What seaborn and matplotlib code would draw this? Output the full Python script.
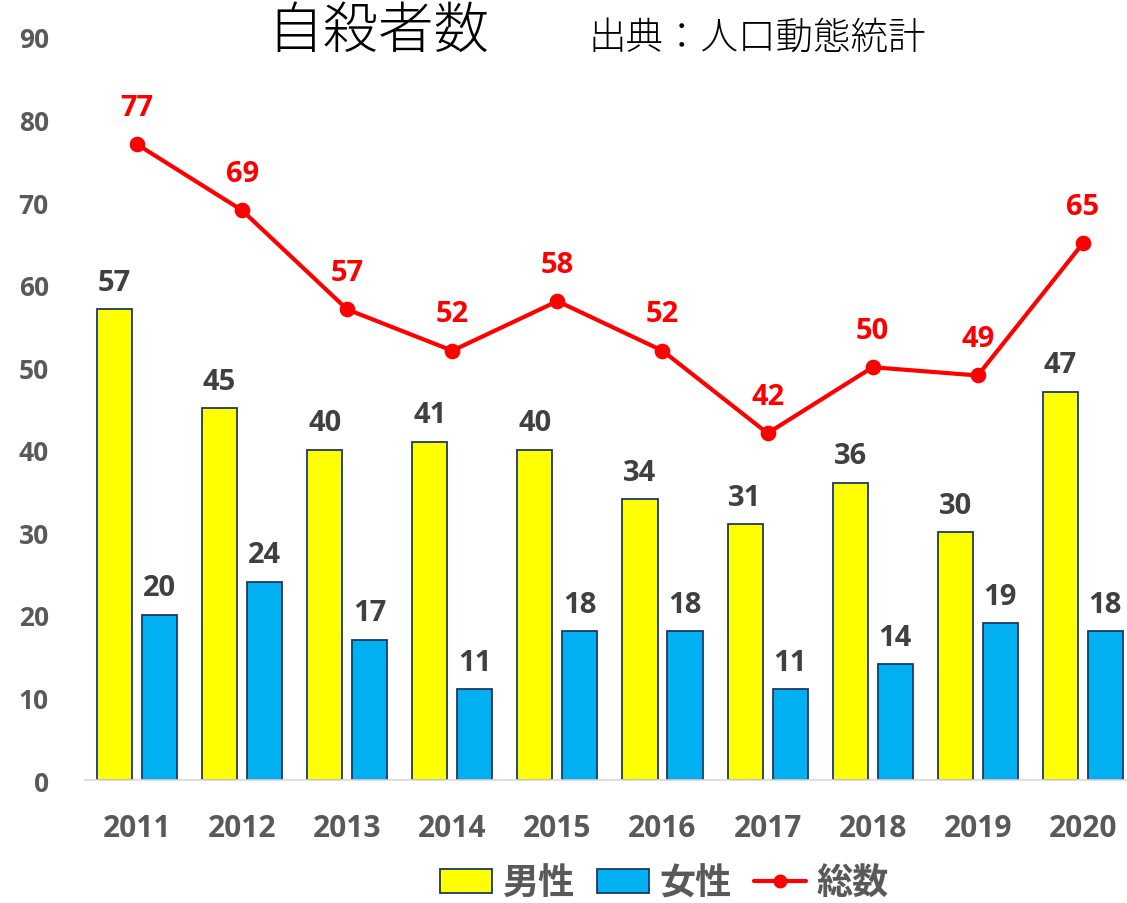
import matplotlib
matplotlib.use("Agg")
import matplotlib.pyplot as plt
import seaborn as sns
import pandas as pd
import numpy as np
from matplotlib.patches import Patch
from matplotlib.lines import Line2D

years = ["2011", "2012", "2013", "2014", "2015", "2016", "2017", "2018", "2019", "2020"]
male = [57, 45, 40, 41, 40, 34, 31, 36, 30, 47]
female = [20, 24, 17, 11, 18, 18, 11, 14, 19, 18]
total = [77, 69, 57, 52, 58, 52, 42, 50, 49, 65]
series_names = ["男性", "女性", "総数"]
title = "自殺者数"
source = "出典：人口動態統計"

sns.set_theme(style="white")
plt.rcParams['font.family'] = ['Noto Sans CJK JP', 'DejaVu Sans']
NUM = ['Open Sans', 'DejaVu Sans']

df = pd.DataFrame({
    "year": years * 2,
    "value": male + female,
    "sex": [series_names[0]] * len(years) + [series_names[1]] * len(years),
})

fig = plt.figure(figsize=(11.27, 9.04), dpi=100)
ax = fig.add_axes([85 / 1127, 1 - 781 / 904, 1 - 85 / 1127, (781 - 38) / 904])

palette = {series_names[0]: "#FFFF00", series_names[1]: "#00B0F0"}
sns.barplot(data=df, x="year", y="value", hue="sex", order=years,
            hue_order=series_names[:2], palette=palette, width=0.857, gap=0.22,
            edgecolor="#1F3864", linewidth=1.3, saturation=1, ax=ax, legend=False)

for cont in ax.containers:
    ax.bar_label(cont, padding=9, fontsize=21, fontweight="bold", color="#404040",
                 family=NUM)

sns.pointplot(x=years, y=total, order=years, color="#FF0000", markers="o",
              linestyles="-", linewidth=3, markersize=9, ax=ax, errorbar=None)

for i, v in enumerate(total):
    ax.annotate(str(v), (i, v), xytext=(0, 16), textcoords="offset points",
                ha="center", va="bottom", fontsize=21, fontweight="bold", color="#FF0000",
                family=NUM)

ax.set_ylim(0, 90)
ax.set_xlim(-0.495, 9.42)
ax.set_yticks(np.arange(0, 91, 10))
ax.set_xlabel("")
ax.set_ylabel("")
for s in ["top", "right", "left"]:
    ax.spines[s].set_visible(False)
ax.spines["bottom"].set_color("#D9D9D9")
ax.spines["bottom"].set_linewidth(1.2)
ax.tick_params(axis="y", length=0, labelsize=19, labelcolor="#595959", pad=26)
ax.tick_params(axis="x", length=0, labelsize=21.5, labelcolor="#595959", pad=24)
for lbl in ax.get_xticklabels() + ax.get_yticklabels():
    lbl.set_fontweight("bold")
    lbl.set_family(NUM)

fig.text(378 / 1127, 1 - 32 / 904, title, fontsize=40, fontweight="light",
         ha="center", va="center", color="black")
fig.text(757 / 1127, 1 - 38 / 904, source, fontsize=27, fontweight="light",
         ha="center", va="center", color="black")

handles = [
    Patch(facecolor="#FFFF00", edgecolor="#1F3864", linewidth=1.3),
    Patch(facecolor="#00B0F0", edgecolor="#1F3864", linewidth=1.3),
    Line2D([0], [0], color="#FF0000", lw=3, marker="o", markersize=9),
]
leg = fig.legend(handles, series_names, loc="center", bbox_to_anchor=(664 / 1127, 1 - 884 / 904),
                 ncol=3, frameon=False, handlelength=1.45, handleheight=0.65,
                 columnspacing=0.62, handletextpad=0.28,
                 prop={"size": 26, "weight": "bold", "family": ['Noto Sans CJK JP', 'DejaVu Sans']})
for t in leg.get_texts():
    t.set_color("#595959")

fig.savefig("out.png", dpi=100)
